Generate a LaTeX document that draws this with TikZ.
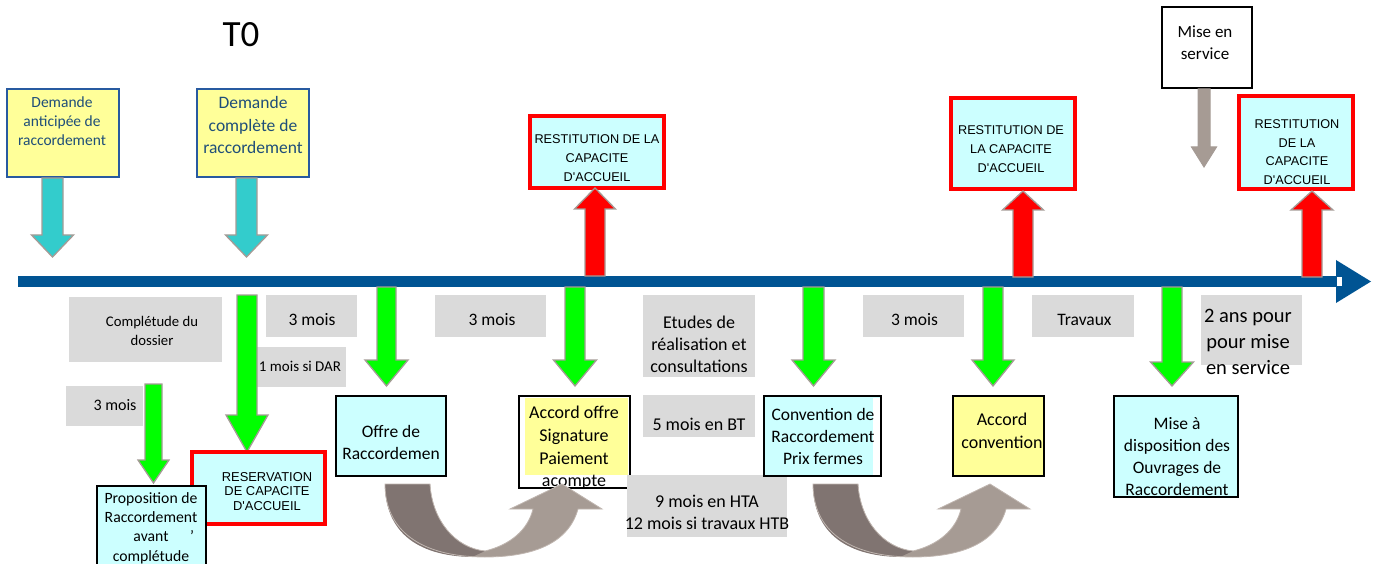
\documentclass[tikz,border=0pt]{standalone}
\usepackage{fontspec}
\setmainfont{Carlito}
\newfontfamily\arialf{Liberation Sans}
\definecolor{tlblue}{RGB}{0,84,147}
\definecolor{byellow}{RGB}{255,255,153}
\definecolor{bcyan}{RGB}{204,255,255}
\definecolor{labgray}{RGB}{218,218,218}
\definecolor{agray}{RGB}{165,155,150}
\definecolor{acyan}{RGB}{51,204,204}
\definecolor{agreen}{RGB}{0,255,0}
\definecolor{dblue}{RGB}{31,78,121}
\definecolor{bblue}{RGB}{40,90,160}
\definecolor{udark}{RGB}{128,116,113}
\definecolor{ulight}{RGB}{166,155,148}
\definecolor{uline}{RGB}{192,182,176}
\newcommand\fsz[2]{\fontsize{#1}{#2}\selectfont}
\newcommand\barrow[7]{\draw[#1] ({#2-#6},#3) -- ({#2+#6},#3) -- ({#2+#6},#4) -- ({#2+#7},#4) -- (#2,#5) -- ({#2-#7},#4) -- ({#2-#6},#4) -- cycle;}
\newcommand\uturnarrow[1]{%
\begin{scope}[xshift=#1]
\fill[ulight] (385,484) -- (430,484) .. controls (432,520) and (455,548) .. (485,551)
  .. controls (510,545) and (528,530) .. (533,509) -- (510,509) -- (562,484) -- (602,509) -- (578,509)
  .. controls (568,545) and (530,557) .. (485,557) .. controls (420,557) and (385,530) .. (385,484) -- cycle;
\fill[udark] (385,484) -- (430,484) .. controls (432,520) and (455,548) .. (485,551) -- (472,557)
  .. controls (415,556) and (385,530) .. (385,484) -- cycle;
\draw[uline, line width=0.8pt, line join=miter] (385,484) -- (430,484) .. controls (432,520) and (455,548) .. (485,551)
  .. controls (510,545) and (528,530) .. (533,509) -- (510,509) -- (562,484) -- (602,509) -- (578,509)
  .. controls (568,545) and (530,557) .. (485,557) .. controls (420,557) and (385,530) .. (385,484) -- cycle;
\end{scope}}
\tikzset{
  txt/.style={inner sep=0pt, align=center},
  lab/.style={fill=labgray, inner sep=0pt},
  cbox/.style={fill=bcyan, draw=black, line width=2.4pt, inner sep=0pt},
  ybox/.style={fill=byellow, draw=black, line width=2.4pt, inner sep=0pt},
  rbox/.style={fill=bcyan, draw=red, line width=4.5pt, inner sep=0pt},
  dbox/.style={fill=byellow, draw=bblue, line width=2pt, inner sep=0pt},
  garrow/.style={fill=agreen, draw=agray, line width=1.3pt, line join=miter},
  carrow/.style={fill=acyan, draw=agray, line width=1.3pt, line join=miter},
  rarrow/.style={fill=red, draw=agray, line width=1.3pt, line join=miter},
  darrow/.style={fill=ulight, draw=agray, line width=1pt, line join=miter},
}
\begin{document}
\begin{tikzpicture}[x=1pt,y=-1pt]
\useasboundingbox (0,0) rectangle (1379,564);
% title
\node[txt, font=\fsz{37}{40}] (t0) at (241,35) {T0};
% top boxes
\node[dbox, minimum width=112pt, minimum height=88pt] (b1) at (63,133) {};
\node[txt, font=\fsz{15.5}{19}, text=dblue] (b1t) at (62,121) {Demande\\anticipée de\\raccordement};
\node[dbox, minimum width=112pt, minimum height=88pt] (b2) at (253,133) {};
\node[txt, font=\fsz{17.5}{22.5}, text=dblue] (b2t) at (253,125) {Demande\\complète de\\raccordement};
\barrow{carrow}{52.5}{178}{235}{257}{10.5}{21}
\barrow{carrow}{246.5}{178}{235}{257}{10.5}{21}
% timeline
\fill[tlblue] (18,276) rectangle (1337,287);
\fill[tlblue] (1336,260) -- (1371,281.5) -- (1336,303) -- cycle;
\fill[white] (1337,277) rectangle (1342,286);
% restitution boxes
\node[rbox, minimum width=134pt, minimum height=72pt] (r1) at (597,152) {};
\node[txt, font=\arialf\fsz{12.7}{19}] (r1t) at (597,158) {RESTITUTION DE LA\\CAPACITE\\D'ACCUEIL};
\barrow{rarrow}{595}{276}{209}{188}{10}{20.5}
\node[rbox, minimum width=124pt, minimum height=91pt] (r2) at (1013,143.5) {};
\node[txt, font=\arialf\fsz{12.7}{19}] (r2t) at (1011,149) {RESTITUTION DE\\LA CAPACITE\\D'ACCUEIL};
\barrow{rarrow}{1023}{277}{210}{191}{10}{20.5}
\node[fill=bcyan, minimum width=114pt, minimum height=93pt, inner sep=0pt] (r3) at (1296,142.5) {};
\node[txt, font=\arialf\fsz{12.7}{18.7}] (r3t) at (1297,152) {RESTITUTION\\DE LA\\CAPACITE\\D'ACCUEIL};
\draw[red, line width=4.5pt] (r3.south west) rectangle (r3.north east);
\barrow{rarrow}{1312}{277}{210}{191}{10}{21}
\node[fill=white, draw=black, line width=2.2pt, minimum width=90pt, minimum height=81pt, inner sep=0pt] (mes) at (1207,47.5) {};
\node[txt, font=\fsz{17}{22}] (mest) at (1205,43) {Mise en\\service};
\barrow{darrow}{1204}{89}{147}{167}{6}{12.5}
% gray labels
\node[lab, minimum width=153pt, minimum height=65pt] (l1) at (145.5,329.5) {};
\node[txt, font=\fsz{14.7}{18.5}] (l1t) at (152,331) {Complétude du\\dossier};
\node[lab, minimum width=91pt, minimum height=42pt] (l2) at (311.5,316) {};
\node[txt, font=\fsz{17.5}{21}] (l2t) at (312,320) {3 mois};
\node[lab, minimum width=90pt, minimum height=40pt] (l3) at (301,367) {};
\node[txt, font=\fsz{15}{18}] (l3t) at (300,366) {1 mois si DAR};
\node[lab, minimum width=77pt, minimum height=40pt] (l4) at (104.5,406) {};
\node[txt, font=\fsz{16}{19}] (l4t) at (115,405) {3 mois};
\node[lab, minimum width=111pt, minimum height=42pt] (l5) at (490.5,316) {};
\node[txt, font=\fsz{17.5}{21}] (l5t) at (492,320) {3 mois};
\node[lab, minimum width=112pt, minimum height=82pt] (l6) at (699,336) {};
\begin{scope}
\clip (643,295) rectangle (755,377);
\node[txt, font=\fsz{18}{22}] (l6t) at (699,344) {Etudes de\\réalisation et\\consultations};
\end{scope}
\node[lab, minimum width=112pt, minimum height=42pt] (l7) at (699,416) {};
\node[txt, font=\fsz{18}{22}] (l7t) at (699,424) {5 mois en BT};
\node[lab, minimum width=101pt, minimum height=42pt] (l9) at (913.5,316) {};
\node[txt, font=\fsz{17.5}{21}] (l9t) at (914.5,320) {3 mois};
\node[lab, minimum width=102pt, minimum height=42pt] (l10) at (1083,316) {};
\node[txt, font=\fsz{17.5}{21}] (l10t) at (1084.5,320) {Travaux};
\node[lab, minimum width=101pt, minimum height=70pt] (l11) at (1251.5,330) {};
\node[txt, font=\fsz{20.5}{26}] (l11t) at (1248,342) {2 ans pour\\pour mise\\en service};
% green arrows
\barrow{garrow}{153.5}{384}{460}{483}{8.5}{15.5}
\barrow{garrow}{247}{295}{415}{452}{10}{21}
\barrow{garrow}{386.5}{287}{360}{386}{9.5}{21.5}
\barrow{garrow}{575}{287}{360}{386}{10}{21.5}
\barrow{garrow}{813.5}{287}{360}{386}{10.5}{21.5}
\barrow{garrow}{993}{287}{360}{386}{10}{21}
\barrow{garrow}{1172}{287}{362}{386}{10}{21.5}
% bottom boxes
\node[rbox, minimum width=133pt, minimum height=72pt] (resv) at (258.5,488) {};
\node[txt, font=\arialf\fsz{12.9}{14.6}] (resvt) at (267,491.5) {RESERVATION\\DE CAPACITE\\D'ACCUEIL};
\node[cbox, minimum width=109pt, minimum height=110pt, anchor=north] (prop) at (151.5,485) {};
\node[txt, font=\fsz{15.7}{19.3}] (propt) at (151,528) {Proposition de\\Raccordement\\avant\\complétude};
\node[txt, font=\fsz{15.7}{19.3}] (apos) at (192,536) {’};
\node[cbox, minimum width=110pt, minimum height=80pt] (offre) at (391,436) {};
\node[txt, font=\fsz{17.5}{22}] (offret) at (391,442) {Offre de\\Raccordemen};
\node[fill=white, draw=black, line width=2.4pt, minimum width=111pt, minimum height=92pt, inner sep=0pt] (acc) at (574.5,442) {};
\fill[byellow] (525,398) rectangle (628,475);
\node[txt, font=\fsz{18}{22.6}] (acct) at (574,448) {Accord offre\\Signature\\Paiement\\acompte};
\node[lab, minimum width=160pt, minimum height=62pt] (l8) at (707,506) {};
\node[txt, font=\fsz{18}{22}] (l8t) at (707,512.5) {9 mois en HTA\\12 mois si travaux HTB};
\node[cbox, minimum width=117pt, minimum height=80pt] (conv) at (822.5,436) {};
\fill[white] (873,397.5) rectangle (880,474.5);
\node[txt, font=\fsz{17.5}{22}] (convt) at (823,436) {Convention de\\Raccordement\\Prix fermes};
\node[ybox, minimum width=91pt, minimum height=80pt] (accv) at (998.5,436) {};
\node[txt, font=\fsz{18}{23.5}] (accvt) at (1002,431) {Accord\\convention};
\node[cbox, minimum width=124pt, minimum height=101pt] (mad) at (1176,446.5) {};
\node[txt, font=\fsz{17.5}{22}] (madt) at (1177,457) {Mise à\\disposition des\\Ouvrages de\\Raccordement};
% curved arrows
\uturnarrow{0pt}
\uturnarrow{428pt}
\end{tikzpicture}
\end{document}
